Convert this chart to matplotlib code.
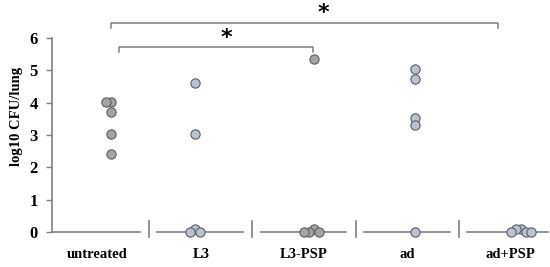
import numpy as np
import matplotlib
matplotlib.use("Agg")
import matplotlib.pyplot as plt

# ---- data ----
categories = ["untreated", "L3", "L3-PSP", "ad", "ad+PSP"]
untreated = [4.02, 4.02, 3.72, 3.02, 2.42]
l3 = [4.62, 3.02, 0.08, 0.0, 0.0]
l3_psp = [5.35, 0.08, 0.0, 0.0, 0.0]
ad = [5.03, 4.73, 3.52, 3.30, 0.0]
ad_psp = [0.08, 0.08, 0.0, 0.0, 0.0]
groups = [untreated, l3, l3_psp, ad, ad_psp]
yticks = [0, 1, 2, 3, 4, 5, 6]
comparisons = [(0, 2, "*"), (0, 4, "*")]

# ---- style / layout ----
fill_colors = ["#a3a3a3", "#b7c2d4", "#a3a3a3", "#b7c2d4", "#b7c2d4"]
group_shift = [0.13, -0.06, 0.10, 0.08, 0.10]
edge_color = "#5f5f5f"
axis_color = "#808080"
serif = ["Liberation Serif", "DejaVu Serif"]

W, H, DPI = 5.5, 2.67, 100
fig = plt.figure(figsize=(W, H), dpi=DPI)
left_px, right_px, zero_px = 52, 548, 232
ax = fig.add_axes([left_px / 550, (267 - zero_px) / 267, (right_px - left_px) / 550, zero_px / 267])
px_per_x = 103.2
px_per_y = (232 - 38) / 6.0
ymax = 6 + 38 / px_per_y
xlo = -0.5 + 6 / px_per_x
xhi = -0.5 + 502 / px_per_x
ax.set_xlim(xlo, xhi)
ax.set_ylim(0, ymax)

diam = 9.0
step = diam * 0.56

def swarm(vals):
    placed = []
    offs = []
    cands = [0.0]
    for k in range(1, 10):
        cands += [-k * step, k * step]
    for v in vals:
        for c in cands:
            if all(np.hypot(c - px, (v - py) * px_per_y) >= step * 0.98 for (px, py) in placed):
                placed.append((c, v))
                offs.append(c / px_per_x)
                break
    return offs

for i, vals in enumerate(groups):
    offs = swarm(vals)
    xs = [i + group_shift[i] + o for o in offs]
    ax.scatter(xs, vals, s=diam ** 2 * 0.55, facecolor=fill_colors[i], edgecolor=edge_color,
               linewidth=0.8, zorder=3, clip_on=False)

# axes styling
for s in ["top", "right", "bottom"]:
    ax.spines[s].set_visible(False)
ax.spines["left"].set_color(axis_color)
ax.spines["left"].set_linewidth(1.2)
ax.spines["left"].set_bounds(0, 6)
ax.set_yticks(yticks)
ax.set_yticklabels([str(t) for t in yticks], fontfamily=serif, fontweight="bold", fontsize=12)
ax.tick_params(axis="y", length=4, width=1.0, color=axis_color, pad=6)
ax.set_xticks([])
ax.set_ylabel("log10 CFU/lung", fontfamily=serif, fontweight="bold", fontsize=10.5, labelpad=5)

# segmented baseline with separators
n = len(categories)
for i in range(n):
    x0 = xlo if i == 0 else i - 0.42
    x1 = i + 0.41 if i < n - 1 else xhi
    ax.plot([x0, x1], [0, 0], color=axis_color, lw=1.2, zorder=1, clip_on=False)
    if i < n - 1:
        ax.plot([i + 0.5, i + 0.5], [-0.17, 0.34], color=axis_color, lw=1.2, clip_on=False)
    ax.text(i, -0.7, categories[i], ha="center", va="center", fontfamily=serif,
            fontweight="bold", fontsize=10.5, clip_on=False)

# significance brackets
levels = {2: (5.72, 0.15, 6.0, 0.21, 0.09), 4: (6.47, 0.15, 6.76, 0.13, -0.12)}
for a, b, star in comparisons:
    yb, drop, ys, la, rb = levels[b]
    xa = a + la
    xb = b + rb
    ax.plot([xa, xa, xb, xb], [yb - drop, yb, yb, yb - drop], color=axis_color, lw=1.1, clip_on=False)
    ax.text((xa + xb) / 2 + (0.1 if b == 2 else 0.18), ys, star, ha="center", va="center",
            fontsize=16, fontweight="bold", fontfamily=["DejaVu Sans"], clip_on=False)

fig.savefig("out.png", dpi=DPI)
